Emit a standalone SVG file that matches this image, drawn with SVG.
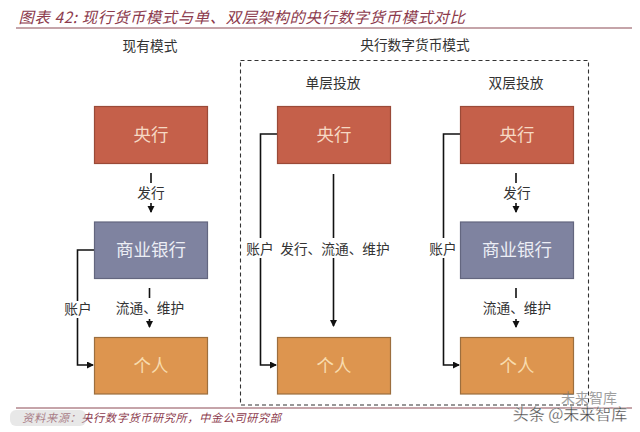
<svg xmlns="http://www.w3.org/2000/svg" width="640" height="432" viewBox="0 0 640 432">
<style>
text{font-family:"Noto Sans CJK SC","Liberation Sans",sans-serif;text-anchor:middle}
.t{font-size:13.700px;fill:#333}
.n{font-size:17.500px}
.c{fill:none;stroke:#111;stroke-width:1.6}
.r{fill:#c5604a;stroke:#9a4a38;stroke-width:1.2}
.b{fill:#7f83a0;stroke:#63667f;stroke-width:1.2}
.o{fill:#dd954f;stroke:#9c6e3e;stroke-width:1.2}
.rt{fill:#f6d9c4}.bt{fill:#eceef5}.ot{fill:#f8dcae}
.h{font-style:italic;fill:#8c3a4c}
</style>
<defs><marker id="a" markerWidth="8" markerHeight="8" refX="6" refY="3.500" orient="auto" markerUnits="userSpaceOnUse"><path d="M0 0L7 3.500L0 7Z" fill="#111"/></marker></defs>
<rect width="640" height="432" fill="#fff"/>
<text x="242" y="23" class="h" style="font-size:15.400px;letter-spacing:.6px">图表 42: 现行货币模式与单、双层架构的央行数字货币模式对比</text>
<line x1="16" y1="28" x2="632" y2="28" stroke="#8c4a55" stroke-width="1.2"/>
<text x="150" y="51" class="t">现有模式</text>
<text x="415" y="50" class="t">央行数字货币模式</text>
<text x="333" y="88" class="t">单层投放</text>
<text x="516" y="88" class="t">双层投放</text>
<rect x="240.500" y="60.500" width="348" height="344.500" fill="none" stroke="#333" stroke-width="1.1" stroke-dasharray="4 3"/>
<g id="connectors">
<path class="c" d="M151 173V183M151 203V212" marker-end="url(#a)"/>
<path class="c" d="M94 250H77.500V301M77.500 318V365H93" marker-end="url(#a)"/>
<path class="c" d="M149.500 288V298M149.500 319V327" marker-end="url(#a)"/>
<path class="c" d="M277 134H260.500V238M260.500 258V365H276" marker-end="url(#a)"/>
<path class="c" d="M333.500 174V238M333.500 258V326" marker-end="url(#a)"/>
<path class="c" d="M460 134H443.500V238M443.500 258V365H459" marker-end="url(#a)"/>
<path class="c" d="M516 173V183M516 203V212" marker-end="url(#a)"/>
<path class="c" d="M516 288V298M516 319V327" marker-end="url(#a)"/>
</g>
<g class="t">
<text x="151" y="198">发行</text>
<text x="150" y="313">流通、维护</text>
<text x="78" y="314">账户</text>
<text x="260" y="254">账户</text>
<text x="335" y="254">发行、流通、维护</text>
<text x="443" y="254">账户</text>
<text x="517" y="198">发行</text>
<text x="517" y="313">流通、维护</text>
</g>
<g id="n1"><rect class="r" x="94.500" y="106.500" width="113" height="57"/><text class="n rt" x="151" y="141">央行</text></g>
<g id="n2"><rect class="b" x="94.500" y="222" width="113" height="56.500"/><text class="n bt" x="151" y="256">商业银行</text></g>
<g id="n3"><rect class="o" x="94.500" y="337.500" width="113" height="56.500"/><text class="n ot" x="151" y="372">个人</text></g>
<g id="n4"><rect class="r" x="277.500" y="106.500" width="113" height="57"/><text class="n rt" x="334" y="141">央行</text></g>
<g id="n5"><rect class="o" x="277.500" y="337.500" width="113" height="56.500"/><text class="n ot" x="334" y="372">个人</text></g>
<g id="n6"><rect class="r" x="460.500" y="106.500" width="113" height="57"/><text class="n rt" x="517" y="141">央行</text></g>
<g id="n7"><rect class="b" x="460.500" y="222" width="113" height="56.500"/><text class="n bt" x="517" y="256">商业银行</text></g>
<g id="n8"><rect class="o" x="460.500" y="337.500" width="113" height="56.500"/><text class="n ot" x="517" y="372">个人</text></g>
<line x1="16" y1="408" x2="632" y2="408" stroke="#8c4a55" stroke-width="1"/>
<text x="152" y="422" class="h" style="font-size:11.200px;letter-spacing:.6px">资料来源：央行数字货币研究所，中金公司研究部</text>
<rect x="10" y="410" width="76" height="16" rx="6" fill="#ccc" opacity=".45"/>
<text x="589" y="403" style="font-size:14px;fill:#777;opacity:.7">未来智库</text>
<text x="570" y="420" style="font-size:16px;fill:#444;stroke:#fff;stroke-width:.3">头条 @未来智库</text>
</svg>
